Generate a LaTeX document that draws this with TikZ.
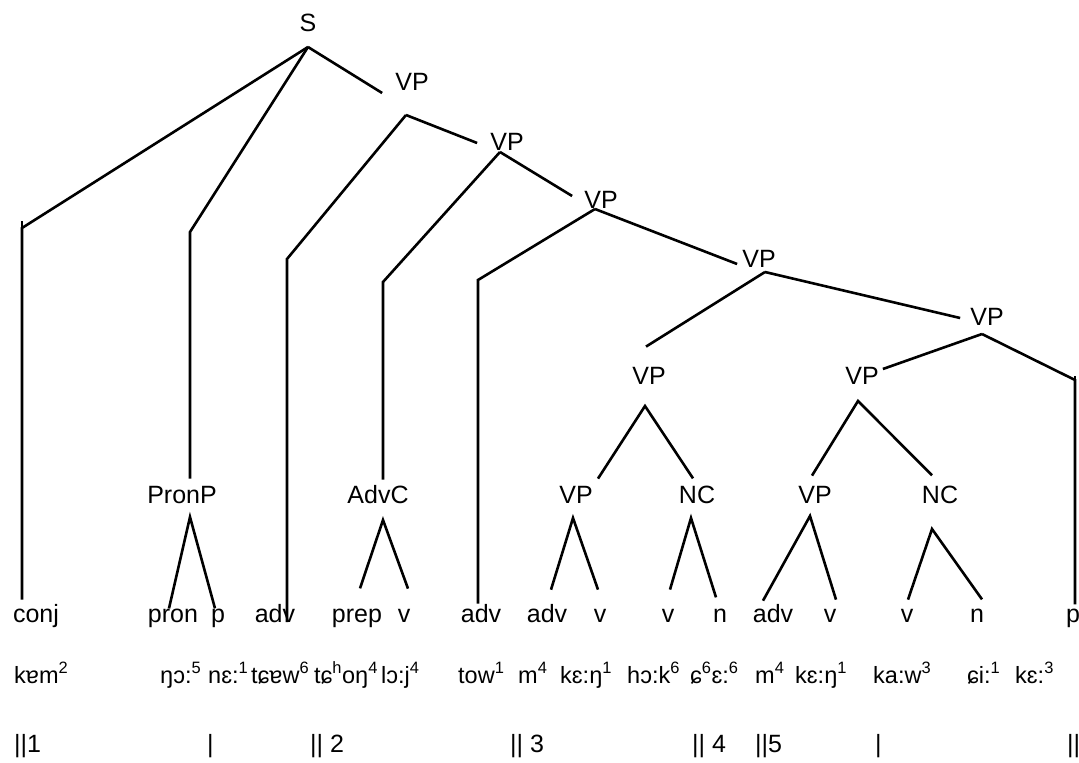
\documentclass[tikz,border=0pt]{standalone}
\usepackage{fontspec}
\setmainfont{Liberation Sans}
\usetikzlibrary{calc}
\begin{document}
\begin{tikzpicture}[x=1pt,y=-1pt]
\tikzset{
  lbl/.style={inner sep=0pt, anchor=base, font=\fontsize{25}{30}\selectfont},
  wrd/.style={inner sep=0pt, anchor=base west, font=\fontsize{23.5}{28}\selectfont},
  brk/.style={inner sep=0pt, anchor=base west, font=\fontsize{25}{30}\selectfont},
  branch/.style={line width=2.6pt, line join=miter},
}
\fill[white] (0,0) rectangle (1079,763);
\useasboundingbox (0,0) rectangle (1079,763);

% phrase labels
\node[lbl] (S) at (308,31) {S};
\node[lbl] (VPa1) at (412,90) {VP};
\node[lbl] (VPa2) at (507,150) {VP};
\node[lbl] (VPa3) at (601,208) {VP};
\node[lbl] (VPa4) at (759,267) {VP};
\node[lbl] (VPa5) at (987,325) {VP};
\node[lbl] (VPl) at (649,384) {VP};
\node[lbl] (VPr) at (862,384) {VP};
\node[lbl] (PronP) at (182,503) {PronP};
\node[lbl] (AdvC) at (378,503) {AdvC};
\node[lbl] (VPll) at (576,503) {VP};
\node[lbl] (NCl) at (697,503) {NC};
\node[lbl] (VPrl) at (815,503) {VP};
\node[lbl] (NCr) at (940,503) {NC};

% word-class labels
\node[lbl] (conj) at (36,622) {conj};
\node[lbl] (pron) at (173,622) {pron};
\node[lbl] (pp) at (218,622) {p};
\node[lbl] (adva) at (275,622) {adv};
\node[lbl] (prep) at (357,622) {prep};
\node[lbl] (va) at (404,622) {v};
\node[lbl] (advb) at (481,622) {adv};
\node[lbl] (advc) at (547,622) {adv};
\node[lbl] (vb) at (600,622) {v};
\node[lbl] (vc) at (668,622) {v};
\node[lbl] (na) at (720,622) {n};
\node[lbl] (advd) at (773,622) {adv};
\node[lbl] (vd) at (830,622) {v};
\node[lbl] (ve) at (907,622) {v};
\node[lbl] (nb) at (977,622) {n};
\node[lbl] (pq) at (1073,622) {p};

% transcription
\node[wrd] (w1) at (14,683) {kɐm\textsuperscript{2}};
\node[wrd] (w2) at (160,683) {ŋɔ:\textsuperscript{5}};
\node[wrd] (w3) at (208,683) {nɛ:\textsuperscript{1}};
\node[wrd] (w4) at (251,683) {tɕɐw\textsuperscript{6}};
\node[wrd] (w5) at (314,683) {tɕ\textsuperscript{h}oŋ\textsuperscript{4}};
\node[wrd] (w6) at (381,683) {lɔ:j\textsuperscript{4}};
\node[wrd] (w7) at (458,683) {tow\textsuperscript{1}};
\node[wrd] (w8) at (518,683) {m\textsuperscript{4}};
\node[wrd] (w9) at (560,683) {kɛ:ŋ\textsuperscript{1}};
\node[wrd] (w10) at (627,683) {hɔ:k\textsuperscript{6}};
\node[wrd] (w11) at (690,683) {ɕ\textsuperscript{6}ɛ:\textsuperscript{6}};
\node[wrd] (w12) at (755,683) {m\textsuperscript{4}};
\node[wrd] (w13) at (795,683) {kɛ:ŋ\textsuperscript{1}};
\node[wrd] (w14) at (873,683) {ka:w\textsuperscript{3}};
\node[wrd] (w15) at (967,683) {ɕi:\textsuperscript{1}};
\node[wrd] (w16) at (1015,683) {kɛ:\textsuperscript{3}};

% boundary marks
\node[brk] (bar1) at (14,752) {||1};
\node[brk] (bar2) at (207,752) {|};
\node[brk] (bar3) at (310,752) {|| 2};
\node[brk] (bar4) at (510,752) {|| 3};
\node[brk] (bar5) at (692,752) {|| 4};
\node[brk] (bar6) at (755,752) {||5};
\node[brk] (bar7) at (875,752) {|};
\node[brk] (bar8) at (1067,752) {||};

% junctions and bends
\coordinate (Sj) at (308,47);
\coordinate (VP1j) at (406,115);
\coordinate (VP2j) at (500,152);
\coordinate (VP3j) at (595,209);
\coordinate (VP4j) at (765,272);
\coordinate (VP5j) at (982,334);
\coordinate (VPlj) at (645,406);
\coordinate (VPrj) at (858,401);
\coordinate (PronPj) at (190,517);
\coordinate (AdvCj) at (383,520);
\coordinate (VPllj) at (573,518);
\coordinate (NClj) at (691,518);
\coordinate (VPrlj) at (810,516);
\coordinate (NCrj) at (932,529);
\coordinate (bconj) at (22,228);
\coordinate (bpron) at (190,232);
\coordinate (badva) at (287,259);
\coordinate (badvc) at (383,282);
\coordinate (badvb) at (478,280);
\coordinate (bp) at (1075,380);

% S
\draw[branch, shorten >=4pt] (Sj) -- (bconj) -- (bconj |- conj.north);
\draw[branch] (bconj) -- ++(0,-7);
\draw[branch, shorten >=7pt] (Sj) -- (bpron) -- (bpron |- PronP.north);
\draw[branch] (Sj) -- ([xshift=-13pt,yshift=-3pt]VPa1.base west);
% VP1
\draw[branch] (VP1j) -- (badva) -- (badva |- adva.base);
\draw[branch] (VP1j) -- ([xshift=-13pt,yshift=7pt]VPa2.base west);
% VP2
\draw[branch, shorten >=5pt] (VP2j) -- (badvc) -- (badvc |- AdvC.north);
\draw[branch] (VP2j) -- ([xshift=-12pt,yshift=12pt]VPa3.base west);
% VP3
\draw[branch] (VP3j) -- (badvb) -- (badvb |- advb.north);
\draw[branch] (VP3j) -- ([xshift=-5pt,yshift=3pt]VPa4.base west);
% VP4
\draw[branch] (VP4j) -- ([xshift=-3pt,yshift=20pt]VPl.north);
\draw[branch] (VP4j) -- ([xshift=-10pt,yshift=7pt]VPa5.base west);
% VP5
\draw[branch] (VP5j) -- ([xshift=4pt,yshift=15pt]VPr.base east);
\draw[branch] (VP5j) -- (bp) -- ([yshift=4pt]bp |- pq.north);
\draw[branch] (bp) -- ++(0,-4);
% lower VPs
\draw[branch] ([xshift=22pt,yshift=7pt]VPll.north) -- (VPlj) -- ([xshift=-4pt,yshift=7pt]NCl.north);
\draw[branch] ([xshift=-3pt,yshift=10pt]VPrl.north) -- (VPrj) -- ([xshift=-8pt,yshift=10pt]NCr.north);
% triangles
\draw[branch] ([xshift=-4pt]pron.north) -- (PronPj) -- ([xshift=-3pt]pp.north);
\draw[branch] ([xshift=3pt,yshift=20pt]prep.north) -- (AdvCj) -- ([xshift=4pt,yshift=20pt]va.north);
\draw[branch] ([xshift=4pt,yshift=14pt]advc.north) -- (VPllj) -- ([xshift=-2pt,yshift=19pt]vb.north);
\draw[branch] ([xshift=2pt,yshift=19pt]vc.north) -- (NClj) -- ([xshift=-4pt,yshift=11pt]na.north);
\draw[branch] ([xshift=-10pt,yshift=3pt]advd.north) -- (VPrlj) -- ([xshift=6pt,yshift=9pt]vd.north);
\draw[branch] ([xshift=1pt,yshift=9pt]ve.north) -- (NCrj) -- ([xshift=5pt,yshift=9pt]nb.north);
\end{tikzpicture}
\end{document}
